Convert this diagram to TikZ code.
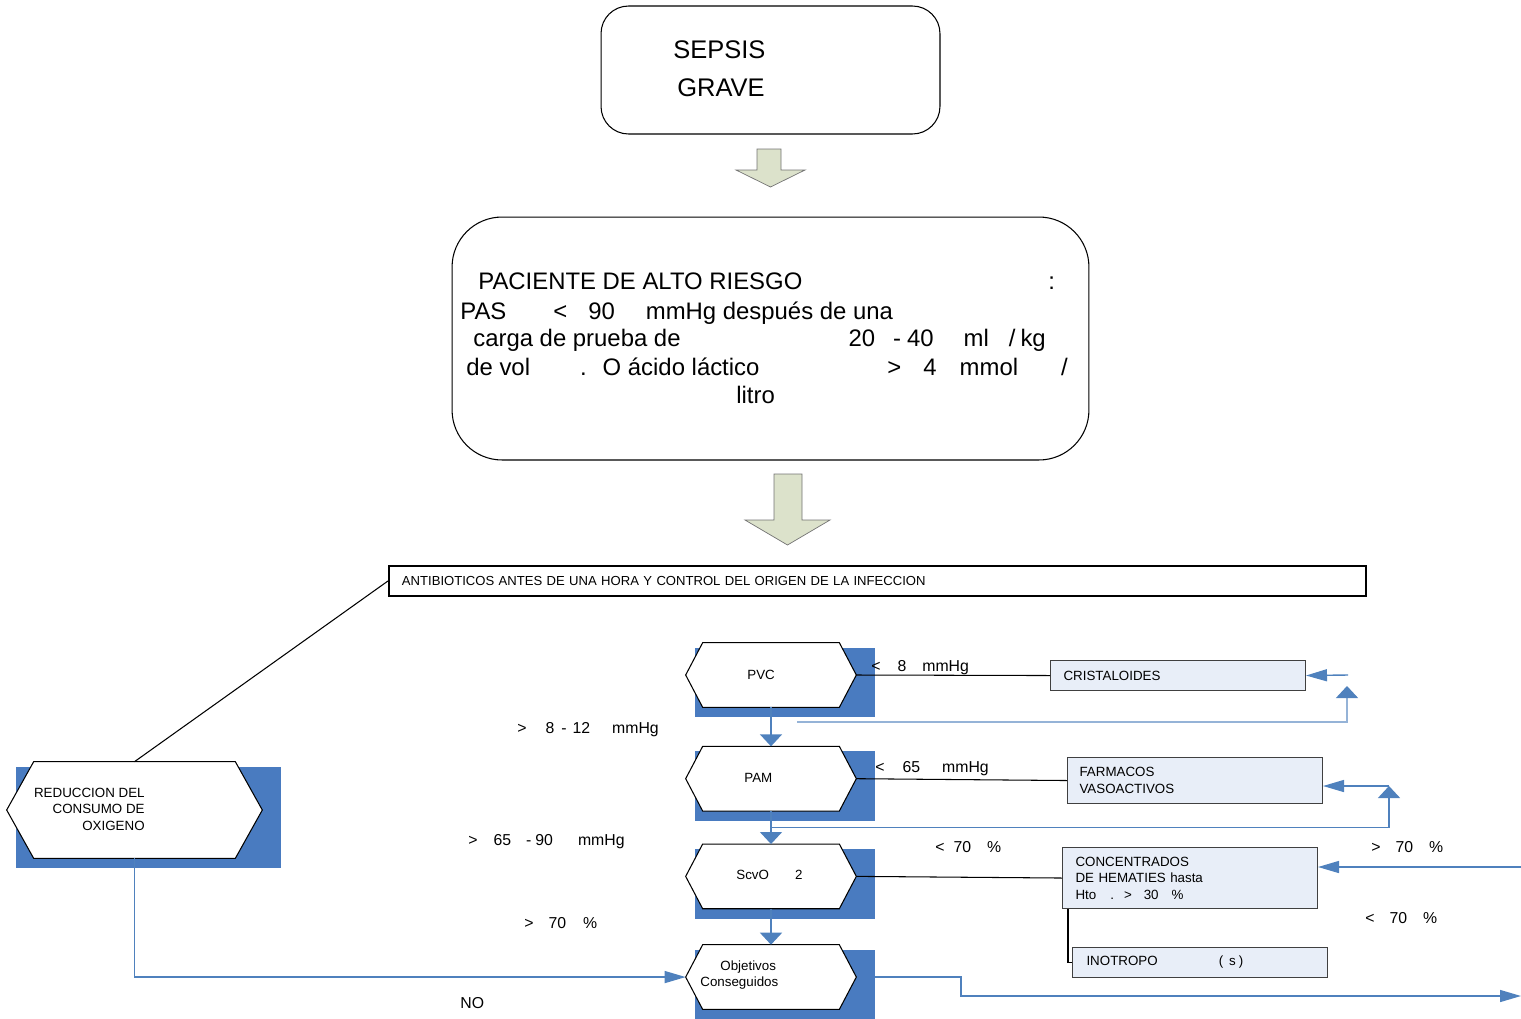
\documentclass[tikz,border=0pt]{standalone}
\usepackage{fontspec}
\setmainfont{Liberation Sans}
\usetikzlibrary{positioning, calc, arrows.meta}

\definecolor{azulflecha}{RGB}{79,129,189}
\definecolor{azulclaro}{RGB}{149,179,215}
\definecolor{azulsombra}{RGB}{73,123,192}
\definecolor{fondocaja}{RGB}{232,238,248}
\definecolor{verdeflecha}{RGB}{220,226,203}

\newlength{\pxu}\setlength{\pxu}{0.02cm}
\newcommand{\hueco}[1]{\hspace*{#1\pxu}}
\newcommand{\chica}{\fontsize{7.6}{9.4}\selectfont}
\newcommand{\media}{\fontsize{9}{11}\selectfont}
\newcommand{\grande}{\fontsize{13.6}{16}\selectfont}

% shadow rectangle + hexagon around an empty node
\newcommand{\hexagono}[2]{%
  \fill[sombra] ([shift={(9,5)}]#1.north west) rectangle ([shift={(19,10)}]#1.south east);
  \draw[borde] (#1.west) -- ([xshift=#2]#1.north west) -- ([xshift=-#2]#1.north east) -- (#1.east)
    -- ([xshift=-#2]#1.south east) -- ([xshift=#2]#1.south west) -- cycle;}

\begin{document}
\begin{tikzpicture}[x=0.02cm, y=-0.02cm,
    redonda/.style={draw, line width=0.6pt, rounded corners=#1, inner sep=0pt},
    caja/.style={draw=black!75, line width=0.6pt, fill=fondocaja, text width=4.58cm, inner xsep=0.26cm,
      inner ysep=0pt, align=left, font=\chica, anchor=north west},
    hexa/.style={minimum width=3.4cm, minimum height=1.28cm, inner sep=0pt},
    sombra/.style={fill=azulsombra},
    borde/.style={draw=black, fill=white, line width=0.6pt},
    texto/.style={anchor=base west, inner sep=0pt},
    enlace/.style={draw=black, line width=0.6pt},
    flechav/.style={draw=azulflecha, line width=0.8pt, -{Triangle[width=0.44cm, length=0.24cm, color=azulflecha]}},
    flechah/.style={draw=azulflecha, line width=0.8pt, -{Triangle[width=0.24cm, length=0.42cm, color=azulflecha]}}]
  \useasboundingbox (0,0) rectangle (1521,1018);

  % Top boxes
  \node[redonda=0.55cm, minimum width=6.78cm, minimum height=2.56cm] (sepsis) at (770.5,70) {};
  \node[texto, anchor=west, align=left, font=\fontsize{14.5}{21.6}\selectfont] (tsepsis) at (673,69) {SEPSIS\\\hueco{4}GRAVE};
  \draw[draw=black!55, fill=verdeflecha] (757,149) -- (781,149) -- (781,170) -- (805,170) -- (770.5,187) -- (736,170) -- (757,170) -- cycle;

  \node[redonda=1cm, minimum width=12.74cm, minimum height=4.86cm] (riesgo) at (770.5,338.5) {};
  \node[texto, font=\grande] (l1) at (478,289) {PACIENTE DE ALTO RIESGO\hueco{246}:};
  \node[texto, font=\grande] (l2) at (460,319) {PAS\hueco{47}<\hueco{21}90\hueco{31}mmHg después de una};
  \node[texto, font=\grande] (l3) at (473,346) {carga de prueba de\hueco{168}20\hueco{18}-\hueco{6}40\hueco{30}ml\hueco{20}/\hueco{5}kg};
  \node[texto, font=\grande] (l4) at (466,375) {de vol\hueco{50}.\hueco{16}O ácido láctico\hueco{128}>\hueco{22}4\hueco{23}mmol\hueco{43}/};
  \node[texto, font=\grande] (l5) at (736,403) {litro};
  \draw[draw=black!55, fill=verdeflecha] (774,474) -- (802,474) -- (802,520) -- (830,520) -- (787.5,545) -- (745,520) -- (774,520) -- cycle;

  \node[draw, line width=1.1pt, text width=19.02cm, inner xsep=0.26cm, inner ysep=0pt, minimum height=0.6cm,
    align=left, font=\fontsize{7.45}{9}\selectfont, anchor=north west] (antib) at (388,565) {ANTIBIOTICOS ANTES DE UNA HORA Y CONTROL DEL ORIGEN DE LA INFECCION};

  % Hexagons
  \node[hexa] (pvc) at (771,675) {};
  \node[hexa, below=0.78cm of pvc] (pam) {};
  \node[hexa, below=0.66cm of pam] (scv) {};
  \node[hexa, below=0.72cm of scv] (obj) {};
  \node[hexa, minimum width=5.1cm, minimum height=1.92cm] (red) at (134.5,810) {};
  \hexagono{pvc}{0.34cm}
  \hexagono{pam}{0.34cm}
  \hexagono{scv}{0.34cm}
  \hexagono{obj}{0.34cm}
  \hexagono{red}{0.54cm}

  \node[texto, font=\chica] (tpvc) at (747,679) {PVC};
  \node[texto, font=\chica] (tpam) at (744,782) {PAM};
  \node[texto, font=\chica] (tscv) at (736,879) {ScvO\hueco{26}2};
  \node[texto, anchor=west, align=left, font=\chica] (tobj) at (700,975) {\hueco{20}Objetivos\\Conseguidos};
  \node[texto, anchor=east, align=right, font=\chica] (tred) at (145,809) {REDUCCION DEL\\CONSUMO DE\\OXIGENO};

  % Treatment boxes
  \node[caja, minimum height=0.6cm] (crist) at (1050,660) {CRISTALOIDES};
  \node[caja, minimum height=0.92cm, text width=4.62cm, inner xsep=0.24cm] (farm) at (1067,757) {FARMACOS\\VASOACTIVOS};
  \node[caja, minimum height=1.22cm] (conc) at (1062,847) {CONCENTRADOS\\DE HEMATIES hasta\\Hto\hueco{14}.\hueco{10}>\hueco{12}30\hueco{13}\%};
  \node[caja, minimum height=0.6cm, text width=4.54cm, inner xsep=0.28cm] (inot) at (1072,947) {INOTROPO\hueco{61}(\hueco{6}s\hueco{3})};

  % Labels
  \node[texto, font=\media] (e1) at (871,671) {<\hueco{17}8\hueco{16}mmHg};
  \node[texto, font=\media] (e2) at (875,772) {<\hueco{18}65\hueco{22}mmHg};
  \node[texto, font=\media] (e3) at (935,852) {<\hueco{9}70\hueco{16}\%};
  \node[texto, font=\media] (e4) at (1371,852) {>\hueco{15}70\hueco{16}\%};
  \node[texto, font=\media] (e5) at (1365,923) {<\hueco{15}70\hueco{16}\%};
  \node[texto, font=\media] (e6) at (517,733) {>\hueco{19}8\hueco{7}-\hueco{6}12\hueco{22}mmHg};
  \node[texto, font=\media] (e7) at (468,845) {>\hueco{16}65\hueco{15}-\hueco{4}90\hueco{25}mmHg};
  \node[texto, font=\media] (e8) at (524,928) {>\hueco{15}70\hueco{17}\%};
  \node[texto, font=\media] (eno) at (460,1008) {NO};

  % Edges
  \draw[enlace] (antib.west) -- (red.north);
  \draw[enlace] (pvc.east) -- (crist.west);
  \draw[enlace] (pam.east) -- (farm.west);
  \draw[enlace] (scv.east) -- (conc.west);
  \draw[enlace] ([xshift=0.12cm]conc.south west) |- (inot.west);

  \draw[flechav] (pvc.south) -- (pam.north);
  \draw[flechav] (pam.south) -- (scv.north);
  \draw[flechav] (scv.south) -- (obj.north);
  \draw[flechah] (red.south) |- (obj.west);

  % Loops back
  \coordinate (r1a) at (797,722);
  \coordinate (r1b) at (1347,686);
  \coordinate (r1c) at (1348,675);
  \draw[flechav, draw=azulclaro] (r1a) -| (r1b);
  \draw[flechah] (r1c) -- (crist.east);
  \coordinate (r2a) at ($(pam.south)!0.5!(scv.north)$);
  \coordinate (r2b) at (1389,786);
  \draw[flechav] (r2a) -| (r2b);
  \draw[flechah] (r2b) -- (r2b -| farm.east);
  \coordinate (r3) at (1521,867);
  \draw[flechah] (r3) -- (r3 -| conc.east);
  \coordinate (r4a) at (961,996);
  \coordinate (r4b) at (1521,996);
  \draw[flechah] ([xshift=0.38cm]obj.east) -| (r4a) -- (r4b);
\end{tikzpicture}
\end{document}
